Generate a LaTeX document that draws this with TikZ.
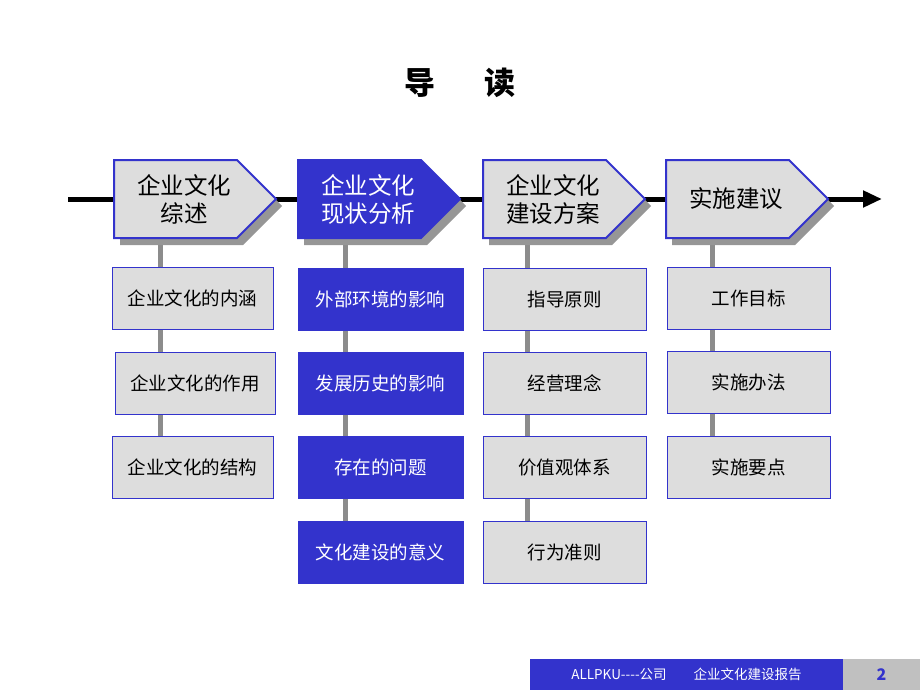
\documentclass[tikz,border=0pt]{standalone}
\usepackage{fontspec}
\setmainfont{Noto Sans CJK SC}
\usetikzlibrary{arrows.meta,calc,backgrounds}
\definecolor{pblue}{RGB}{51,51,204}
\definecolor{pgray}{RGB}{221,221,221}
\definecolor{sgray}{RGB}{150,150,150}
\definecolor{lgray}{RGB}{140,140,140}
\definecolor{fgray}{RGB}{192,192,192}
\tikzset{
  chevtext/.style={inner sep=0pt, align=center, font=\fontsize{23.5}{28}\selectfont},
  item/.style={draw=pblue, line width=0.8pt, fill=pgray, minimum height=62, inner sep=0pt, font=\fontsize{18.5}{22}\selectfont},
  itemb/.style={item, fill=pblue, text=white},
  vline/.style={draw=lgray, line width=5},
}
% #1 node, #2 dx, #3 dy
\newcommand{\chevpath}[3]{([shift={(-70+#2,-39+#3)}]#1) -- ([shift={(53+#2,-39+#3)}]#1) -- ([shift={(92+#2,#3)}]#1) -- ([shift={(53+#2,39+#3)}]#1) -- ([shift={(-70+#2,39+#3)}]#1) -- cycle}
\begin{document}
\begin{tikzpicture}[x=1pt,y=-1pt]
\useasboundingbox (0,0) rectangle (920,690);
% title
\node (title) at (460,83) {\fontsize{31}{34}\selectfont\bfseries 导\hspace{1.6em}读};
% main arrow line ends
\coordinate (ls) at (68,199);
\coordinate (le) at (882,199);
% chevron anchors (text centres)
\coordinate (c1) at (184,199);
\coordinate (c2) at (368,199);
\coordinate (c3) at (553,199);
\coordinate (c4) at (736,199);
% items
\node[item, minimum width=161] (a1) at (192.5,298) {企业文化的内涵};
\node[item, minimum width=160] (a2) at (195,383) {企业文化的作用};
\node[item, minimum width=161] (a3) at (192.5,467.5) {企业文化的结构};
\node[itemb, minimum width=165] (b1) at (380.5,299) {外部环境的影响};
\node[itemb, minimum width=165] (b2) at (380.5,383.5) {发展历史的影响};
\node[itemb, minimum width=165] (b3) at (380.5,467.5) {存在的问题};
\node[itemb, minimum width=165] (b4) at (380.5,552) {文化建设的意义};
\node[item, minimum width=163] (d1) at (564.5,299) {指导原则};
\node[item, minimum width=163] (d2) at (564.5,383.5) {经营理念};
\node[item, minimum width=163] (d3) at (564.5,467.5) {价值观体系};
\node[item, minimum width=163] (d4) at (564.5,552) {行为准则};
\node[item, minimum width=163] (e1) at (748.5,298.5) {工作目标};
\node[item, minimum width=163] (e2) at (748.5,382.5) {实施办法};
\node[item, minimum width=163] (e3) at (748.5,467.5) {实施要点};
% vertical connectors (behind items)
\coordinate (l1) at ([xshift=-24]c1);
\coordinate (l2) at ([xshift=-23]c2);
\coordinate (l3) at ([xshift=-26]c3);
\coordinate (l4) at ([xshift=-24]c4);
\begin{scope}[on background layer]
\draw[vline] (l1) -- (l1 |- a3.center);
\draw[vline] (l2) -- (l2 |- b4.center);
\draw[vline] (l3) -- (l3 |- d4.center);
\draw[vline] (l4) -- (l4 |- e3.center);
\draw[line width=5, -{Triangle[length=19,width=16]}] (ls) -- (le);
\end{scope}
% chevrons
\foreach \n/\f in {c1/pgray, c2/pblue, c3/pgray, c4/pgray}{
  \fill[sgray] \chevpath{\n}{6}{7};
  \draw[pblue, line width=2, fill=\f, line join=miter] \chevpath{\n}{0}{0};
}
\node[chevtext] (t1) at (c1) {企业文化\\综述};
\node[chevtext, text=white] (t2) at (c2) {企业文化\\现状分析};
\node[chevtext] (t3) at (c3) {企业文化\\建设方案};
\node[chevtext] (t4) at (c4) {实施建议};
% footer
\node[fill=pblue, minimum width=313, minimum height=31, inner sep=0pt, text=white, font=\fontsize{13.5}{16}\selectfont] (ft) at (686.5,674.5) {ALLPKU{-}{-}{-}{-}公司\hspace{2em}企业文化建设报告};
\node[fill=fgray, minimum width=77, minimum height=31, inner sep=0pt, text=pblue, font=\fontsize{16}{18}\selectfont\bfseries] (pg) at (881.5,674.5) {2};
\end{tikzpicture}
\end{document}
